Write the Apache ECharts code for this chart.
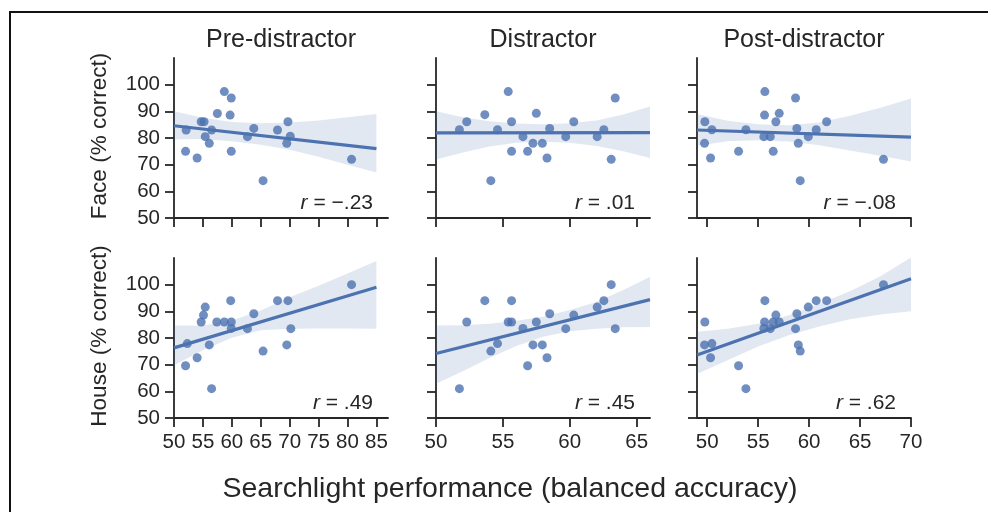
<!DOCTYPE html>
<html>
<head>
<meta charset="utf-8">
<script src="https://cdn.jsdelivr.net/npm/echarts@6/dist/echarts.min.js"></script>
<style>
html,body{margin:0;padding:0;background:#fff;}
#chart{width:988px;height:512px;}
</style>
</head>
<body>
<div id="chart"></div>
<script>
// ---------- data ----------
const colTitles = ['Pre-distractor', 'Distractor', 'Post-distractor'];
const rowTitles = ['Face (% correct)', 'House (% correct)'];
const xAxisTitle = 'Searchlight performance (balanced accuracy)';

const colXRange = [[50, 87], [50, 66], [49, 70]];
const colXTicks = [[50, 55, 60, 65, 70, 75, 80, 85], [50, 55, 60, 65], [50, 55, 60, 65, 70]];
const yRange = [50, 110];
const yTicks = [50, 60, 70, 80, 90, 100];

// Face (top row)
const preFaceX  = [52.1, 52.0, 54.0, 54.7, 55.2, 55.4, 56.1, 56.5, 57.5, 58.7, 59.9, 59.7, 59.9, 62.7, 63.8, 65.4, 67.9, 69.7, 69.5, 70.1, 80.7];
const preFaceY  = [83.0, 75.0, 72.5, 86.1, 86.1, 80.5, 78.0, 83.0, 89.2, 97.4, 95.0, 88.6, 75.0, 80.5, 83.6, 64.0, 83.0, 86.1, 78.0, 80.7, 72.0];
const distFaceX = [51.75, 52.3, 53.65, 54.1, 54.6, 55.4, 55.65, 55.65, 56.5, 56.85, 57.25, 57.5, 57.95, 58.3, 58.5, 59.7, 60.3, 62.05, 62.55, 63.1, 63.4];
const distFaceY = [83.1, 86.1, 88.75, 64.0, 83.1, 97.4, 86.1, 75.0, 80.5, 75.0, 78.0, 89.25, 78.0, 72.5, 83.6, 80.5, 86.1, 80.5, 83.1, 72.0, 95.0];
const postFaceX = [49.77, 49.74, 50.46, 50.33, 53.08, 53.8, 55.66, 55.63, 55.56, 56.19, 56.48, 56.74, 57.07, 58.67, 58.8, 58.94, 59.13, 59.92, 60.7, 61.72, 67.3];
const postFaceY = [86.1, 78.0, 83.1, 72.5, 75.0, 83.1, 97.4, 88.6, 80.5, 80.5, 75.0, 86.1, 89.25, 95.0, 83.6, 78.0, 64.0, 80.5, 83.1, 86.1, 72.0];

// House (bottom row)
const preHouseX  = [52.3, 52.0, 54.0, 54.7, 55.1, 55.4, 56.1, 56.5, 57.4, 58.7, 59.8, 59.9, 59.9, 62.7, 63.8, 65.4, 67.9, 69.7, 69.5, 70.2, 80.7];
const preHouseY  = [77.9, 69.6, 72.6, 86.0, 88.6, 91.6, 77.4, 61.0, 86.0, 86.0, 94.0, 86.0, 83.6, 83.5, 89.1, 75.1, 94.0, 94.0, 77.4, 83.5, 100.0];
const distHouseX = [51.75, 52.3, 53.65, 54.1, 54.6, 55.4, 55.65, 55.65, 56.5, 56.85, 57.25, 57.5, 57.95, 58.3, 58.5, 59.7, 60.3, 62.05, 62.55, 63.1, 63.4];
const distHouseY = [61.0, 86.0, 94.0, 75.1, 77.9, 86.0, 94.0, 86.0, 83.6, 69.6, 77.4, 86.0, 77.4, 72.6, 89.1, 83.5, 88.6, 91.6, 94.0, 100.0, 83.5];
const postHouseX = [49.77, 49.74, 50.46, 50.33, 53.08, 53.8, 55.66, 55.63, 55.56, 56.19, 56.48, 56.74, 57.07, 58.67, 58.8, 58.94, 59.13, 59.92, 60.7, 61.72, 67.3];
const postHouseY = [86.0, 77.4, 77.9, 72.6, 69.6, 61.0, 94.0, 86.0, 83.6, 83.5, 86.0, 88.6, 86.0, 83.5, 89.1, 77.4, 75.1, 91.6, 94.0, 94.0, 100.0];

// regression lines [x0, y0, x1, y1]
const preFaceFit   = [50, 84.6, 85, 76.0];
const distFaceFit  = [50, 81.9, 66, 82.0];
const postFaceFit  = [49, 83.0, 70, 80.3];
const preHouseFit  = [50, 76.3, 85, 99.0];
const distHouseFit = [50, 74.2, 66, 94.4];
const postHouseFit = [49, 73.6, 70, 102.2];

// confidence bands: x, lower, upper
const preFaceBandX  = [50, 55, 60, 65, 70, 75, 80, 85];
const preFaceBandLo = [79.4, 79.6, 78.8, 77.5, 75.6, 73.0, 70.0, 67.1];
const preFaceBandHi = [90.0, 87.6, 86.0, 85.5, 85.8, 86.6, 87.8, 89.0];
const distFaceBandX  = [50, 52, 54, 56, 58, 60, 62, 64, 66];
const distFaceBandLo = [71.9, 74.6, 76.8, 78.2, 78.6, 78.2, 77.0, 75.0, 72.5];
const distFaceBandHi = [90.0, 87.8, 86.3, 85.4, 85.2, 85.5, 86.6, 88.8, 91.8];
const postFaceBandX  = [49, 52, 55, 58, 61, 64, 67, 70];
const postFaceBandLo = [77.1, 78.8, 79.2, 78.7, 77.3, 75.3, 73.3, 71.2];
const postFaceBandHi = [89.0, 86.5, 85.2, 84.8, 85.8, 88.3, 91.3, 94.8];
const preHouseBandX  = [50, 55, 60, 65, 70, 75, 80, 85];
const preHouseBandLo = [69.8, 75.4, 80.1, 82.9, 83.5, 83.6, 83.6, 83.5];
const preHouseBandHi = [84.7, 84.7, 86.6, 90.3, 95.3, 99.6, 104.2, 108.9];
const distHouseBandX  = [50, 52, 54, 56, 58, 60, 62, 64, 66];
const distHouseBandLo = [62.8, 67.5, 72.5, 77.0, 80.5, 82.5, 83.5, 84.0, 84.1];
const distHouseBandHi = [84.7, 84.8, 85.3, 86.5, 88.0, 90.5, 93.5, 98.0, 103.0];
const postHouseBandX  = [49, 52, 55, 58, 61, 64, 67, 70];
const postHouseBandLo = [66.5, 71.7, 76.8, 81.0, 84.3, 87.0, 88.8, 90.0];
const postHouseBandHi = [82.3, 83.5, 85.3, 88.5, 92.8, 97.5, 103.2, 110.2];

const rValues = ['\u2212.23', '.01', '\u2212.08', '.49', '.45', '.62'];

// ---------- layout / style ----------
const FONT = '"Liberation Sans", Arial, Helvetica, sans-serif';
const TXT = '#262626';
const BLUE = '#4C72B0';
const gridLefts = [174, 436, 697];
const gridW = 214;
const gridTops = [58, 258];
const gridH = 160;

const panels = [
  {row:0, col:0, x:preFaceX,  y:preFaceY,  fit:preFaceFit,  bx:preFaceBandX,  lo:preFaceBandLo,  hi:preFaceBandHi},
  {row:0, col:1, x:distFaceX, y:distFaceY, fit:distFaceFit, bx:distFaceBandX, lo:distFaceBandLo, hi:distFaceBandHi},
  {row:0, col:2, x:postFaceX, y:postFaceY, fit:postFaceFit, bx:postFaceBandX, lo:postFaceBandLo, hi:postFaceBandHi},
  {row:1, col:0, x:preHouseX,  y:preHouseY,  fit:preHouseFit,  bx:preHouseBandX,  lo:preHouseBandLo,  hi:preHouseBandHi},
  {row:1, col:1, x:distHouseX, y:distHouseY, fit:distHouseFit, bx:distHouseBandX, lo:distHouseBandLo, hi:distHouseBandHi},
  {row:1, col:2, x:postHouseX, y:postHouseY, fit:postHouseFit, bx:postHouseBandX, lo:postHouseBandLo, hi:postHouseBandHi}
];

const grid = [], xAxis = [], yAxis = [], series = [], graphic = [];
const axisLineStyle = {color: TXT, width: 1.8};

panels.forEach((p, i) => {
  grid.push({left: gridLefts[p.col], top: gridTops[p.row], width: gridW, height: gridH, containLabel: false});
  xAxis.push({
    type: 'value', gridIndex: i,
    min: colXRange[p.col][0], max: colXRange[p.col][1],
    axisLine: {show: true, onZero: false, lineStyle: axisLineStyle},
    axisTick: {show: true, inside: false, length: 9, lineStyle: axisLineStyle, customValues: colXTicks[p.col]},
    axisLabel: {show: p.row === 1, customValues: colXTicks[p.col], margin: 14, fontSize: 20.5, color: TXT, fontFamily: FONT},
    splitLine: {show: false}
  });
  yAxis.push({
    type: 'value', gridIndex: i,
    min: yRange[0], max: yRange[1],
    axisLine: {show: true, onZero: false, lineStyle: axisLineStyle},
    axisTick: {show: true, inside: false, length: 9, lineStyle: axisLineStyle, customValues: yTicks},
    axisLabel: {show: p.col === 0, customValues: yTicks, margin: 14, fontSize: 20.5, color: TXT, fontFamily: FONT},
    splitLine: {show: false}
  });
  series.push({
    type: 'scatter', xAxisIndex: i, yAxisIndex: i, z: 2,
    data: p.x.map((v, k) => [v, p.y[k]]),
    symbolSize: 9,
    itemStyle: {color: BLUE, opacity: 0.8},
    silent: true
  });
  series.push({
    type: 'custom', xAxisIndex: i, yAxisIndex: i, z: 3, clip: true, silent: true,
    data: [[p.bx[0], p.lo[0]]],
    renderItem: function (params, api) {
      const pts = [];
      for (let k = 0; k < p.bx.length; k++) pts.push(api.coord([p.bx[k], p.hi[k]]));
      for (let k = p.bx.length - 1; k >= 0; k--) pts.push(api.coord([p.bx[k], p.lo[k]]));
      const cs = params.coordSys;
      return {
        type: 'polygon',
        shape: {points: pts},
        style: {fill: 'rgba(76,114,176,0.16)'},
        clipPath: {type: 'rect', shape: {x: cs.x, y: cs.y, width: cs.width, height: cs.height}}
      };
    }
  });
  series.push({
    type: 'line', xAxisIndex: i, yAxisIndex: i, z: 4, silent: true,
    data: [[p.fit[0], p.fit[1]], [p.fit[2], p.fit[3]]],
    showSymbol: false, symbol: 'none',
    lineStyle: {color: BLUE, width: 3.2}
  });
  // r annotation
  graphic.push({
    type: 'text', z: 100,
    x: gridLefts[p.col] + gridW - 15,
    y: gridTops[p.row] + gridH - 4,
    style: {
      text: '{i|r} = ' + rValues[i],
      textAlign: 'right', textVerticalAlign: 'bottom',
      align: 'right', verticalAlign: 'bottom',
      fontSize: 21, fontFamily: FONT, fill: TXT,
      rich: {i: {fontStyle: 'italic', fontSize: 21, fontFamily: FONT, fill: TXT, color: TXT}}
    }
  });
});

// column titles
colTitles.forEach((t, c) => {
  graphic.push({
    type: 'text', x: gridLefts[c] + gridW / 2, y: 40,
    style: {text: t, textAlign: 'center', textVerticalAlign: 'middle', align: 'center', verticalAlign: 'middle',
            fontSize: 25, fontFamily: FONT, fill: TXT}
  });
});
// row titles
rowTitles.forEach((t, r) => {
  graphic.push({
    type: 'text', x: 100, y: gridTops[r] + gridH / 2 - 2, rotation: Math.PI / 2,
    style: {text: t, textAlign: 'center', textVerticalAlign: 'middle', align: 'center', verticalAlign: 'middle',
            fontSize: 22.5, fontFamily: FONT, fill: TXT}
  });
});
// x axis title
graphic.push({
  type: 'text', x: 510, y: 489,
  style: {text: xAxisTitle, textAlign: 'center', textVerticalAlign: 'middle', align: 'center', verticalAlign: 'middle',
          fontSize: 28.5, fontFamily: FONT, fill: TXT}
});
// outer frame (top and left edges)
graphic.push({type: 'line', shape: {x1: 9, y1: 12, x2: 988, y2: 12}, style: {stroke: '#111', lineWidth: 2}});
graphic.push({type: 'line', shape: {x1: 10, y1: 11, x2: 10, y2: 512}, style: {stroke: '#111', lineWidth: 2}});

const chart = echarts.init(document.getElementById('chart'), null, {renderer: 'canvas'});
chart.setOption({
  animation: false,
  backgroundColor: '#fff',
  grid, xAxis, yAxis, series, graphic
});
</script>
</body>
</html>
